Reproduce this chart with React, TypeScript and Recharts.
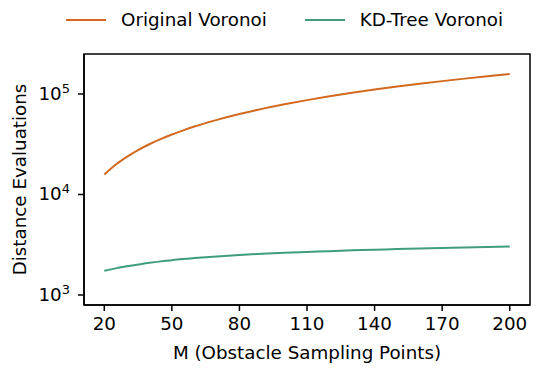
import React from "react";
import {
  LineChart,
  Line,
  XAxis,
  YAxis,
  ReferenceArea,
} from "recharts";

const M_VALUES = [20, 25, 30, 35, 40, 45, 50, 55, 60, 70, 80, 90, 100, 110, 120, 130, 140, 150, 160, 170, 180, 190, 200];
const ORIGINAL_VORONOI = [
  15800, 19800, 23700, 27700, 31600, 35500, 39500, 43400, 47400, 55300, 63200, 71100,
  79000, 86900, 94800, 102700, 110600, 118500, 126400, 134300, 142200, 150100, 158000,
];
const KDTREE_VORONOI = [
  1740, 1840, 1930, 2010, 2090, 2160, 2220, 2280, 2330, 2420, 2500, 2570,
  2630, 2680, 2730, 2780, 2820, 2860, 2900, 2940, 2970, 3000, 3030,
];
const X_TICKS = [20, 50, 80, 110, 140, 170, 200];
const Y_TICKS = [1000, 10000, 100000];

const X_DOMAIN: [number, number] = [11, 209];
const Y_DOMAIN: [number, number] = [795, 250000];

const ORANGE = "#d2691e";
const GREEN = "#3f9c7c";
const FONT = "'DejaVu Sans', sans-serif";
const FS = 18.3;

const data = M_VALUES.map((m, i) => ({
  m,
  original: ORIGINAL_VORONOI[i],
  kdtree: KDTREE_VORONOI[i],
}));

function PowTick(props: any) {
  const { x, y, payload } = props;
  const exp = Math.round(Math.log10(payload.value));
  return (
    <text x={x - 6} y={y + 6} textAnchor="end" fontSize={FS} fill="#000" fontFamily={FONT}>
      <tspan>10</tspan>
      <tspan dy={-7} fontSize={13}>{exp}</tspan>
    </text>
  );
}

function XTick(props: any) {
  const { x, y, payload } = props;
  return (
    <text x={x} y={y + 17} textAnchor="middle" fontSize={FS} fill="#000" fontFamily={FONT}>
      {payload.value}
    </text>
  );
}

function LegendBox() {
  const items = [
    { name: "Original Voronoi", color: ORANGE },
    { name: "KD-Tree Voronoi", color: GREEN },
  ];
  return (
    <div
      style={{
        position: "absolute",
        top: 9,
        left: 0,
        display: "flex",
        alignItems: "center",
        fontFamily: FONT,
        fontSize: FS,
        color: "#000",
        lineHeight: "22px",
      }}
    >
      {items.map((it, i) => (
        <div key={it.name} style={{ display: "flex", alignItems: "center", marginLeft: i === 0 ? 66 : 38 }}>
          <span style={{ display: "inline-block", width: 40, height: 2, background: it.color, marginRight: 15 }} />
          <span>{it.name}</span>
        </div>
      ))}
    </div>
  );
}

export default function App() {
  return (
    <div style={{ position: "absolute", left: 0, top: 0, width: 550, height: 373, background: "#fff" }}>
      <LegendBox />
      <LineChart width={550} height={373} data={data} margin={{ top: 54, right: 20, bottom: 0, left: 0 }}>
        <XAxis
          dataKey="m"
          type="number"
          domain={X_DOMAIN}
          ticks={X_TICKS}
          height={68}
          allowDataOverflow
          stroke="#000"
          strokeWidth={1.5}
          tickSize={6}
          tick={<XTick />}
          label={{
            value: "M (Obstacle Sampling Points)",
            position: "insideBottom",
            offset: 14,
            fill: "#000",
            fontSize: FS,
            fontFamily: FONT,
          }}
        />
        <YAxis
          scale="log"
          type="number"
          domain={Y_DOMAIN}
          ticks={Y_TICKS}
          width={84}
          allowDataOverflow
          stroke="#000"
          strokeWidth={1.5}
          tickSize={6}
          tick={<PowTick />}
          label={{
            value: "Distance Evaluations",
            angle: -90,
            position: "insideLeft",
            offset: 20,
            style: { textAnchor: "middle" },
            fill: "#000",
            fontSize: FS,
            fontFamily: FONT,
          }}
        />
        <ReferenceArea
          x1={X_DOMAIN[0]}
          x2={X_DOMAIN[1]}
          y1={Y_DOMAIN[0]}
          y2={Y_DOMAIN[1]}
          fill="none"
          stroke="#000"
          strokeWidth={1.5}
          ifOverflow="visible"
        />
        <Line
          dataKey="original"
          name="Original Voronoi"
          stroke={ORANGE}
          strokeWidth={2}
          dot={false}
          type="monotone"
          isAnimationActive={false}
        />
        <Line
          dataKey="kdtree"
          name="KD-Tree Voronoi"
          stroke={GREEN}
          strokeWidth={2}
          dot={false}
          type="monotone"
          isAnimationActive={false}
        />
      </LineChart>
    </div>
  );
}
